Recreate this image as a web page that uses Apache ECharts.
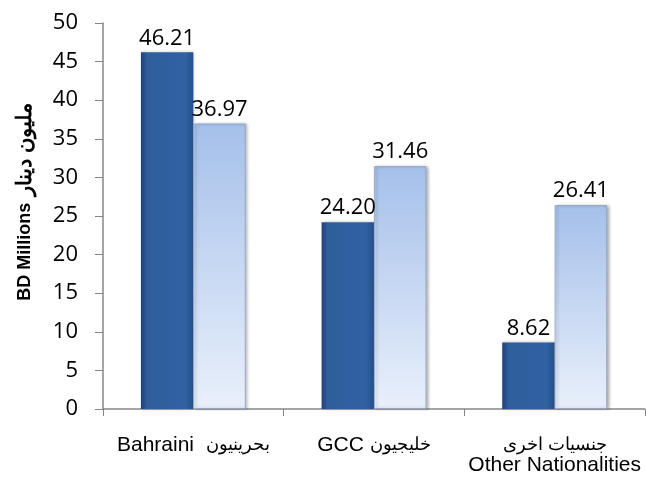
<!DOCTYPE html>
<html><head><meta charset="utf-8">
<script src="https://cdn.jsdelivr.net/npm/echarts@6/dist/echarts.min.js"></script>
<style>html,body{margin:0;padding:0;background:#fff}#c{width:646px;height:478px}</style>
</head><body><div id="c"></div>
<script>
const categoriesEn = ["Bahraini", "GCC", "Other Nationalities"];
const categoriesAr = ["بحرينيون", "خليجيون", "جنسيات اخرى"];
const categories = ["Bahraini  بحرينيون", "GCC خليجيون", "جنسيات اخرى\nOther Nationalities"];
const seriesA = [46.21, 24.20, 8.62];
const seriesB = [36.97, 31.46, 26.41];
const yTicks = {min: 0, max: 50, interval: 5};
const yNameEn = "BD Millions";
const yNameAr = "مليون دينار";

const chart = echarts.init(document.getElementById('c'), null, {renderer: 'canvas'});
const darkFill = new echarts.graphic.LinearGradient(0, 0, 1, 0, [
  {offset: 0, color: '#1d4278'}, {offset: 0.12, color: '#2f5e9c'},
  {offset: 0.85, color: '#3061a1'}, {offset: 1, color: '#264f8a'}]);
const lightFill = new echarts.graphic.LinearGradient(0, 0, 0, 1, [
  {offset: 0, color: '#a5c0ea'}, {offset: 1, color: '#e9f0fb'}]);
const labelStyle = {show: true, position: 'top', distance: 3, fontFamily: 'Open Sans', fontSize: 22, color: '#000',
  formatter: p => p.value.toFixed(2)};
function catFormatter(v, i) {
  if (i === 0) return '{en|' + categoriesEn[0] + '}{sp|  }{ar|' + categoriesAr[0] + '}';
  if (i === 1) return '{en|' + categoriesEn[1] + '}{sp| }{ar|' + categoriesAr[1] + '}';
  return '{ar|' + categoriesAr[2] + '}\n{en|' + categoriesEn[2] + '}';
}
chart.setOption({
  animation: false,
  grid: {left: 103, right: 1, top: 23, bottom: 69, outerBoundsMode: 'none', containLabel: false},
  xAxis: {
    type: 'category', data: categories,
    axisLine: {lineStyle: {color: '#868686', width: 1.5}},
    axisTick: {show: true, length: 7, lineStyle: {color: '#868686'}},
    axisLabel: {interval: 0, color: '#000', margin: 26, lineHeight: 20, formatter: catFormatter,
      rich: {
        en: {fontFamily: 'Liberation Sans', fontSize: 21, color: '#000', lineHeight: 20},
        sp: {fontFamily: 'Liberation Sans', fontSize: 21, color: '#000', lineHeight: 20},
        ar: {fontFamily: 'Liberation Sans', fontSize: 17.5, color: '#000', lineHeight: 20}
      }}
  },
  yAxis: {
    type: 'value', min: yTicks.min, max: yTicks.max, interval: yTicks.interval,
    name: '{en|' + yNameEn + '}  {ar|' + yNameAr + '}', nameLocation: 'middle', nameGap: 67, nameRotate: 90,
    nameTextStyle: {padding: [0, 0, 0, 28],
      rich: {
        en: {fontFamily: 'Liberation Sans', fontWeight: 'bold', fontSize: 18, color: '#000'},
        ar: {fontFamily: 'Liberation Sans', fontWeight: 'bold', fontSize: 21, color: '#000'}
      }},
    splitLine: {show: false},
    axisLine: {show: true, lineStyle: {color: '#868686', width: 1.5}},
    axisTick: {show: true, length: 8, lineStyle: {color: '#868686'}},
    axisLabel: {fontFamily: 'Open Sans', fontSize: 22, color: '#000', margin: 25}
  },
  series: [
    {name: 'A', type: 'bar', data: seriesA, barGap: '0%', barCategoryGap: '42%',
     itemStyle: {color: darkFill, shadowColor: 'rgba(0,0,0,0.25)', shadowBlur: 3, shadowOffsetX: 1},
     label: labelStyle},
    {name: 'B', type: 'bar', data: seriesB,
     itemStyle: {color: lightFill, borderColor: '#8fa3c2', borderWidth: 0.8, shadowColor: 'rgba(0,0,0,0.3)', shadowBlur: 3, shadowOffsetX: 2},
     label: labelStyle}
  ]
});
</script></body></html>
